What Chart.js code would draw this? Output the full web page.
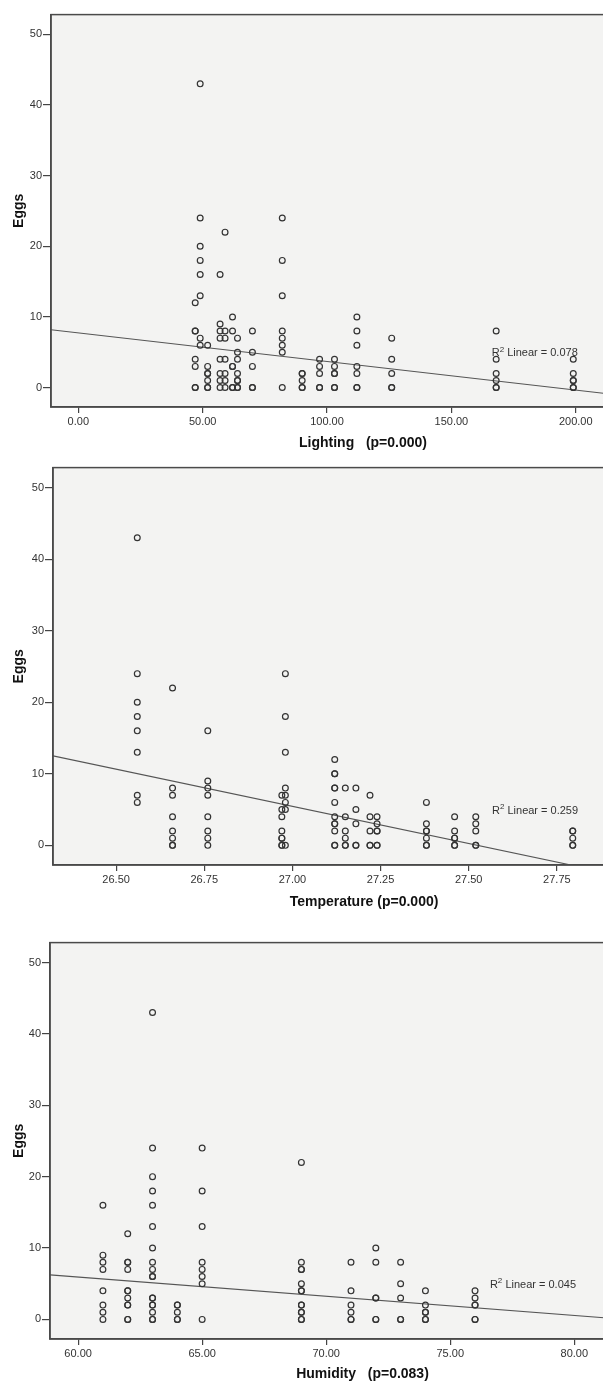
<!DOCTYPE html>
<html><head><meta charset="utf-8">
<script src="https://cdn.jsdelivr.net/npm/chart.js@4.4.1/dist/chart.umd.min.js"></script>
<style>
html,body{margin:0;padding:0;background:#fff;overflow:hidden;width:603px;height:1383px;position:relative;}
canvas{position:absolute;left:0;}
</style></head><body>
<canvas id="c1" style="top:7px" width="680" height="452"></canvas>
<canvas id="c2" style="top:460px" width="680" height="457"></canvas>
<canvas id="c3" style="top:935px" width="680" height="448"></canvas>
<script>
// ---------- data ----------
const eggTicks = [0, 10, 20, 30, 40, 50];

const lightingLevels = [47, 49, 52, 57, 59, 62, 64, 70, 82, 90, 97, 103, 112, 126, 168, 199];
const lightingEggs = [
  [12, 8, 8, 4, 3, 0, 0],
  [43, 24, 20, 18, 16, 13, 7, 6],
  [6, 3, 2, 2, 1, 0, 0],
  [16, 9, 8, 7, 4, 2, 1, 0],
  [22, 8, 7, 4, 2, 1, 0],
  [10, 8, 3, 3, 0, 0],
  [7, 5, 4, 2, 1, 1, 0, 0],
  [8, 5, 3, 0, 0],
  [24, 18, 13, 8, 7, 6, 5, 0],
  [2, 2, 1, 0, 0],
  [4, 3, 2, 0, 0],
  [4, 3, 2, 2, 0, 0],
  [10, 8, 6, 3, 2, 0, 0],
  [7, 4, 2, 0, 0],
  [8, 4, 2, 1, 0, 0],
  [4, 2, 1, 1, 0, 0]
];
const lightingTicks = [0, 50, 100, 150, 200];
const lightingFit = [7.75, -0.0405];   // intercept, slope
const lightingR2 = '0.078';

const temperatureLevels = [26.56, 26.66, 26.76, 26.97, 26.98, 27.12, 27.15, 27.18, 27.22, 27.24, 27.38, 27.46, 27.52, 27.795];
const temperatureEggs = [
  [43, 24, 20, 18, 16, 13, 7, 6],
  [22, 8, 7, 4, 2, 1, 0, 0],
  [16, 9, 8, 7, 4, 2, 1, 0],
  [7, 5, 4, 2, 1, 1, 0, 0],
  [24, 18, 13, 8, 7, 6, 5, 0],
  [12, 10, 10, 8, 8, 6, 4, 3, 3, 2, 0, 0],
  [8, 4, 2, 1, 0, 0],
  [8, 5, 3, 0, 0],
  [7, 4, 2, 0, 0],
  [4, 3, 2, 2, 0, 0],
  [6, 3, 2, 2, 1, 0, 0],
  [4, 2, 1, 1, 0, 0],
  [4, 3, 2, 0, 0],
  [2, 2, 1, 0, 0]
];
const temperatureTicks = [26.5, 26.75, 27.0, 27.25, 27.5, 27.75];
const temperatureFit = [285.98, -10.39];
const temperatureR2 = '0.259';

const humidityLevels = [61, 62, 63, 64, 65, 69, 71, 72, 73, 74, 76];
const humidityEggs = [
  [16, 9, 8, 7, 4, 2, 1, 0],
  [12, 8, 8, 7, 4, 4, 3, 2, 2, 0, 0],
  [43, 24, 20, 18, 16, 13, 10, 8, 7, 6, 6, 3, 3, 2, 2, 1, 0, 0],
  [2, 2, 1, 0, 0],
  [24, 18, 13, 8, 7, 6, 5, 0],
  [22, 8, 7, 7, 5, 4, 4, 2, 2, 1, 1, 0, 0],
  [8, 4, 2, 1, 0, 0],
  [10, 8, 3, 3, 0, 0],
  [8, 5, 3, 0, 0],
  [4, 2, 1, 1, 0, 0],
  [4, 3, 2, 2, 0, 0]
];
const humidityTicks = [60, 65, 70, 75, 80];
const humidityFit = [22.07, -0.269];
const humidityR2 = '0.045';

// ---------- drawing ----------
const FONT = '"Liberation Sans", Arial, sans-serif';
const INK = '#333333';

const framePlugin = {
  id: 'frame',
  beforeDraw(chart) {
    const {ctx, chartArea: a} = chart;
    ctx.save();
    ctx.fillStyle = '#f3f3f2';
    ctx.fillRect(a.left, a.top, a.right - a.left, a.bottom - a.top);
    ctx.restore();
  },
  afterDraw(chart, args, opts) {
    const {ctx, chartArea: a} = chart;
    ctx.save();
    ctx.strokeStyle = '#4a4a4a';
    ctx.lineWidth = 1.5;
    ctx.strokeRect(a.left, a.top, a.right - a.left, a.bottom - a.top);
    if (opts.r2) {
      const x = chart.scales.x.getPixelForValue(opts.r2x);
      const y = chart.scales.y.getPixelForValue(opts.r2y);
      ctx.fillStyle = '#333';
      ctx.textBaseline = 'middle';
      ctx.textAlign = 'left';
      ctx.font = '11px ' + FONT;
      ctx.fillText('R', x, y);
      let w = ctx.measureText('R').width;
      ctx.font = '8px ' + FONT;
      ctx.fillText('2', x + w, y - 4);
      w += ctx.measureText('2').width;
      ctx.font = '11px ' + FONT;
      ctx.fillText(' Linear = ' + opts.r2, x + w, y);
    }
    ctx.restore();
  }
};

function makeChart(id, levels, eggs, ticks, fit, r2, p) {
  const pts = levels.flatMap((x, i) => eggs[i].map(y => ({x, y})));
  const line = [p.xMin, p.xMax].map(x => ({x, y: fit[0] + fit[1] * x}));
  new Chart(document.getElementById(id), {
    type: 'scatter',
    data: {
      datasets: [
        {data: pts, pointStyle: 'circle', pointRadius: 2.9, borderWidth: 1.2,
         borderColor: INK, backgroundColor: 'rgba(0,0,0,0)', pointHoverRadius: 2.9},
        {type: 'line', data: line, borderColor: '#555', borderWidth: 1.1, pointRadius: 0, fill: false}
      ]
    },
    options: {
      responsive: false,
      animation: false,
      events: [],
      layout: {padding: {top: 3, right: 5, left: 0, bottom: 0}},
      plugins: {
        legend: {display: false},
        tooltip: {enabled: false},
        frame: {r2: r2, r2x: p.r2x, r2y: 4.85}
      },
      scales: {
        x: {
          type: 'linear', min: p.xMin, max: p.xMax,
          afterBuildTicks: s => { s.ticks = ticks.map(v => ({value: v})); },
          afterFit: s => { s.height = p.xAxisH; },
          ticks: {autoSkip: false, maxRotation: 0, padding: 2, color: '#333',
                  font: {family: FONT, size: 11}, callback: v => Number(v).toFixed(2)},
          grid: {drawOnChartArea: false, drawTicks: true, tickLength: 6, color: '#444', lineWidth: 1.2},
          border: {display: true, color: '#4a4a4a', width: 1.5},
          title: {display: true, text: p.title, color: '#111',
                  font: {family: FONT, size: 14, weight: 'bold'},
                  padding: {top: 0, bottom: p.titlePad}}
        },
        y: {
          type: 'linear', min: -2.75, max: 52.8,
          afterBuildTicks: s => { s.ticks = eggTicks.map(v => ({value: v})); },
          afterFit: s => { s.width = p.left; },
          ticks: {padding: 1, color: '#333', font: {family: FONT, size: 11},
                  callback: v => String(v)},
          grid: {drawOnChartArea: false, drawTicks: true, tickLength: 8, color: '#444', lineWidth: 1.2},
          border: {display: true, color: '#4a4a4a', width: 1.5},
          title: {display: true, text: 'Eggs', color: '#111',
                  font: {family: FONT, size: 14, weight: 'bold'},
                  padding: {top: 10.6, bottom: 0}}
        }
      }
    },
    plugins: [framePlugin]
  });
}

makeChart('c1', lightingLevels, lightingEggs, lightingTicks, lightingFit, lightingR2,
  {left: 51, xMin: -10.98, xMax: 239.9, xAxisH: 52, titlePad: 7.6,
   title: 'Lighting   (p=0.000)', r2x: 166.2});
makeChart('c2', temperatureLevels, temperatureEggs, temperatureTicks, temperatureFit, temperatureR2,
  {left: 53, xMin: 26.321, xMax: 28.085, xAxisH: 52, titlePad: 6.9,
   title: 'Temperature (p=0.000)', r2x: 27.566});
makeChart('c3', humidityLevels, humidityEggs, humidityTicks, humidityFit, humidityR2,
  {left: 50, xMin: 58.867, xMax: 84.06, xAxisH: 44, titlePad: 0.6,
   title: 'Humidity   (p=0.083)', r2x: 76.6});
</script>
</body></html>
